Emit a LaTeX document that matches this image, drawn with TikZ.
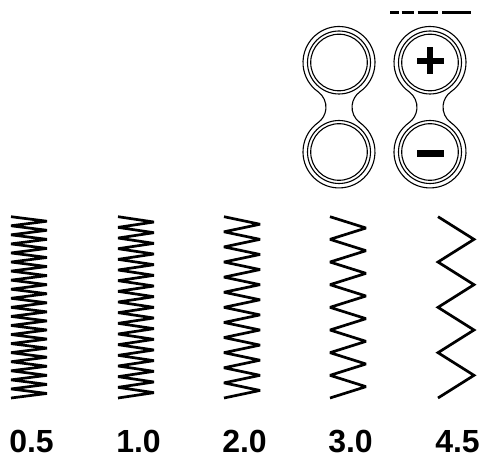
\documentclass[tikz,border=0pt]{standalone}
\usepackage{fontspec}
\setmainfont{Liberation Sans}
\newcommand\stitchzz[4]{% #1 x left, #2 number of segments, #3 name, #4 width
  \draw[zz] (#1,244.3) coordinate (#3)
    \foreach \i in {1,...,#2} { -- ({#1+mod(\i,2)*#4}, {244.3-\i*181.3/#2}) };
}
\newcommand\btnpair[2]{% #1 center x, #2 name
  \coordinate (#2t) at (#1,398.5);
  \coordinate (#2b) at (#1,309);
  \draw[ring] (#2t) ++(-54.4:36pt)
    arc[start angle=-54.4, end angle=234.4, radius=36pt]
    arc[start angle=54.4, end angle=-54.4, radius=19pt]
    arc[start angle=125.6, end angle=414.4, radius=36pt]
    arc[start angle=234.4, end angle=125.6, radius=19pt] -- cycle;
  \draw[ring] (#2t) circle[radius=31.5pt];
  \draw[ring] (#2t) circle[radius=28.3pt];
  \draw[ring] (#2b) circle[radius=31.5pt];
  \draw[ring] (#2b) circle[radius=28.3pt];
}
\begin{document}
\begin{tikzpicture}[x=1pt,y=1pt,
  ring/.style={line width=1.1pt, black},
  zz/.style={line width=2.7pt, line join=miter, miter limit=2.5},
  lab/.style={font=\bfseries\fontsize{32}{32}\selectfont, inner sep=0pt, anchor=base},
  dsh/.style={line width=3.3pt}]
\useasboundingbox (0,0) rectangle (483,461);
\fill[white] (0,0) rectangle (483,461);

% buttons
\btnpair{339}{L}
\btnpair{430}{R}
% plus and minus
\fill (416.7,396.7) rectangle (444.3,402.7);
\fill (426.9,387) rectangle (432.9,414.3);
\fill (416.7,304.3) rectangle (444.3,311);

% dashes above right button
\coordinate (d1a) at (390,448.3); \coordinate (d1b) at (399,448.3);
\coordinate (d2a) at (401.7,448.3); \coordinate (d2b) at (414,448.3);
\coordinate (d3a) at (417.7,448.3); \coordinate (d3b) at (437.7,448.3);
\coordinate (d4a) at (442.3,448.3); \coordinate (d4b) at (471,448.3);
\draw[dsh] (d1a) -- (d1b);
\draw[dsh] (d2a) -- (d2b);
\draw[dsh] (d3a) -- (d3b);
\draw[dsh] (d4a) -- (d4b);

% zigzag stitches
\stitchzz{11}{40}{z1}{36}
\stitchzz{118}{34}{z2}{36}
\stitchzz{224}{24}{z3}{36}
\stitchzz{330}{16}{z4}{36}
\stitchzz{438}{8}{z5}{36}

% labels
\node[lab] (l1) at (31.5,8) {0.5};
\node[lab] (l2) at (138.5,8) {1.0};
\node[lab] (l3) at (244.5,8) {2.0};
\node[lab] (l4) at (350.5,8) {3.0};
\node[lab] (l5) at (457.5,8) {4.5};
\end{tikzpicture}
\end{document}
